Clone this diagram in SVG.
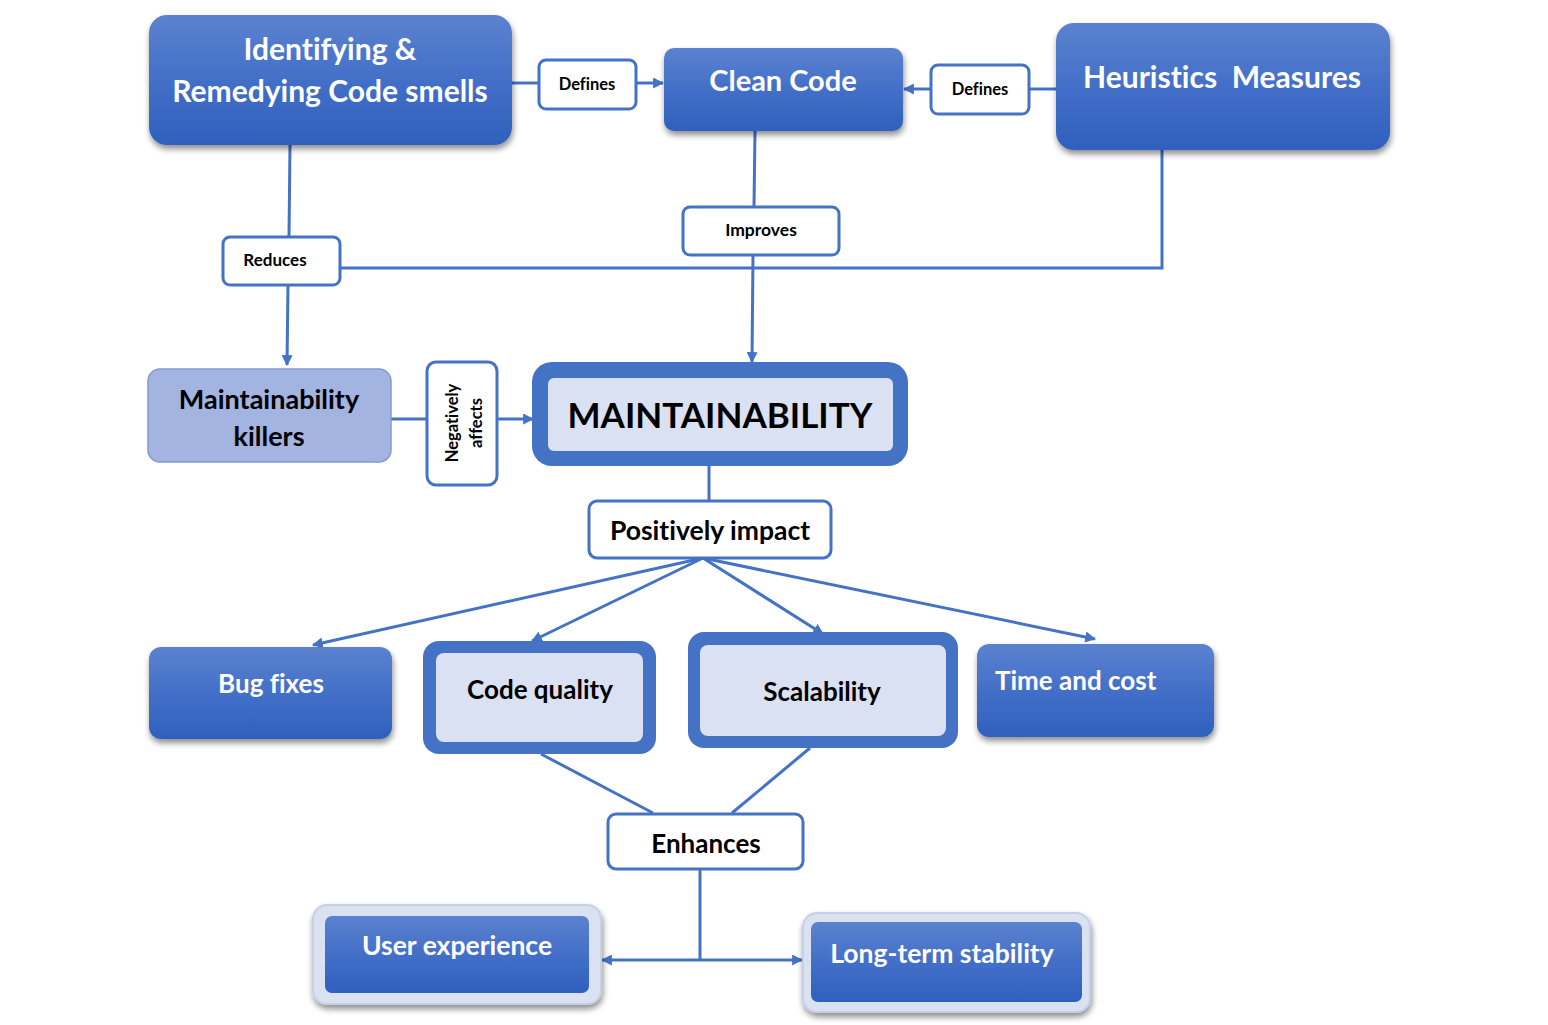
<svg xmlns="http://www.w3.org/2000/svg" width="1548" height="1025" viewBox="0 0 1548 1025">
<defs>
<linearGradient id="blueGrad" x1="0" y1="0" x2="0" y2="1">
<stop offset="0" stop-color="#5b82cf"/>
<stop offset="0.5" stop-color="#436fc8"/>
<stop offset="1" stop-color="#2f60bd"/>
</linearGradient>
<filter id="shadow" x="-10%" y="-10%" width="125%" height="130%">
<feGaussianBlur in="SourceAlpha" stdDeviation="3"/>
<feOffset dx="1" dy="4" result="b"/>
<feComponentTransfer><feFuncA type="linear" slope="0.45"/></feComponentTransfer>
<feMerge><feMergeNode/><feMergeNode in="SourceGraphic"/></feMerge>
</filter>
<marker id="arr" viewBox="0 0 10 10" refX="9" refY="5" markerWidth="11" markerHeight="11" markerUnits="userSpaceOnUse" orient="auto-start-reverse">
<path d="M0,0 L10,5 L0,10 Z" fill="#4472c4"/>
</marker>
</defs>
<style>
.blue{fill:url(#blueGrad);filter:url(#shadow);}
.wt{fill:#ffffff;font-family:Lato,"Liberation Sans",sans-serif;font-weight:bold;text-anchor:middle;font-variant-ligatures:none;}
.bt{fill:#000000;font-family:Lato,"Liberation Sans",sans-serif;font-weight:bold;text-anchor:middle;font-variant-ligatures:none;}
.start{text-anchor:start;}
.lbl{fill:#ffffff;stroke:#4472c4;stroke-width:3;}
.conn{fill:none;stroke:#4472c4;stroke-width:3;}
.thick{fill:#4472c4;}
.inner{fill:#dae1f2;}
.halo{fill:#dae1f1;stroke:#c5cfe8;stroke-width:2;filter:url(#shadow);}
</style>

<g id="connectors">
<path class="conn" d="M512,83 H539"/>
<path class="conn" d="M636,83 H663" marker-end="url(#arr)"/>
<path class="conn" d="M1056,89 H1029"/>
<path class="conn" d="M931,89 H904" marker-end="url(#arr)"/>
<path class="conn" d="M290,145 L289,237"/>
<path class="conn" d="M288,285 L287,365" marker-end="url(#arr)"/>
<path class="conn" d="M340,268 H1162 V150"/>
<path class="conn" d="M755,131 L754,206"/>
<path class="conn" d="M753,255 L752,362" marker-end="url(#arr)"/>
<path class="conn" d="M391,419 H427"/>
<path class="conn" d="M497,419 H533" marker-end="url(#arr)"/>
<path class="conn" d="M709,466 V500"/>
<path class="conn" d="M703,558 L313,645" marker-end="url(#arr)"/>
<path class="conn" d="M703,558 L532,641" marker-end="url(#arr)"/>
<path class="conn" d="M703,558 L823,634" marker-end="url(#arr)"/>
<path class="conn" d="M703,558 L1095,639" marker-end="url(#arr)"/>
<path class="conn" d="M541,754 L653,813"/>
<path class="conn" d="M810,748 L732,813"/>
<path class="conn" d="M700,869 V960"/>
<path class="conn" d="M700,960 H602" marker-end="url(#arr)"/>
<path class="conn" d="M700,960 H802" marker-end="url(#arr)"/>
</g>

<g id="identifying">
<rect class="blue" x="149" y="15" width="363" height="130" rx="18"/>
<text class="wt" x="330" y="60" font-size="30">Identifying &amp;</text>
<text class="wt" x="330" y="102" font-size="30">Remedying Code smells</text>
</g>

<g id="defines1">
<rect class="lbl" x="539" y="60" width="97" height="49" rx="7"/>
<text class="bt" x="587" y="90" font-size="16.5">Defines</text>
</g>

<g id="clean-code">
<rect class="blue" x="664" y="48" width="239" height="83" rx="10"/>
<text class="wt" x="783" y="91" font-size="29">Clean Code</text>
</g>

<g id="defines2">
<rect class="lbl" x="931" y="65" width="98" height="49" rx="7"/>
<text class="bt" x="980" y="95" font-size="16.5">Defines</text>
</g>

<g id="heuristics">
<rect class="blue" x="1056" y="23" width="334" height="127" rx="18"/>
<text class="wt" x="1222" y="88" font-size="30" xml:space="preserve">Heuristics  Measures</text>
</g>

<g id="reduces">
<rect class="lbl" x="223" y="237" width="117" height="48" rx="7"/>
<text class="bt" x="275" y="266" font-size="17">Reduces</text>
</g>

<g id="improves">
<rect class="lbl" x="683" y="207" width="156" height="48" rx="7"/>
<text class="bt" x="761" y="236" font-size="17.5">Improves</text>
</g>

<g id="killers">
<rect x="148" y="369" width="243" height="93" rx="12" fill="#a3b4e0" stroke="#7f9ad5" stroke-width="1.5"/>
<text class="bt" x="269" y="409" font-size="27">Maintainability</text>
<text class="bt" x="269" y="446" font-size="27">killers</text>
</g>

<g id="negatively">
<rect class="lbl" x="427" y="362" width="70" height="123" rx="9"/>
<text class="bt" transform="translate(458,423) rotate(-90)" font-size="16.5">Negatively</text>
<text class="bt" transform="translate(482,423) rotate(-90)" font-size="16.5">affects</text>
</g>

<g id="maintainability">
<rect class="thick" x="532" y="362" width="376" height="104" rx="20"/>
<rect class="inner" x="548" y="378" width="345" height="73" rx="6"/>
<text class="bt" x="720" y="428" font-size="35">MAINTAINABILITY</text>
</g>

<g id="positively">
<rect class="lbl" x="589" y="501" width="242" height="57" rx="8"/>
<text class="bt" x="710" y="540" font-size="26.5">Positively impact</text>
</g>

<g id="bug-fixes">
<rect class="blue" x="149" y="647" width="243" height="92" rx="12"/>
<text class="wt" x="271" y="693" font-size="26">Bug fixes</text>
</g>

<g id="code-quality">
<rect class="thick" x="423" y="641" width="233" height="113" rx="16"/>
<rect class="inner" x="436" y="653" width="207" height="89" rx="8"/>
<text class="bt" x="540" y="699" font-size="26">Code quality</text>
</g>

<g id="scalability">
<rect class="thick" x="688" y="632" width="270" height="116" rx="16"/>
<rect class="inner" x="700" y="645" width="246" height="91" rx="8"/>
<text class="bt" x="822" y="701" font-size="26">Scalability</text>
</g>

<g id="time-cost">
<rect class="blue" x="977" y="644" width="237" height="93" rx="12"/>
<text class="wt start" x="995" y="690" font-size="26">Time and cost</text>
</g>

<g id="enhances">
<rect class="lbl" x="608" y="814" width="195" height="55" rx="8"/>
<text class="bt" x="706" y="853" font-size="26">Enhances</text>
</g>

<g id="user-experience">
<rect class="halo" x="313" y="905" width="288" height="99" rx="14"/>
<rect x="325" y="916" width="264" height="77" rx="7" fill="url(#blueGrad)"/>
<text class="wt" x="457" y="955" font-size="26.5">User experience</text>
</g>

<g id="long-term">
<rect class="halo" x="803" y="913" width="287" height="99" rx="14"/>
<rect x="811" y="922" width="271" height="80" rx="7" fill="url(#blueGrad)"/>
<text class="wt" x="942" y="963" font-size="26.5">Long-term stability</text>
</g>
</svg>
